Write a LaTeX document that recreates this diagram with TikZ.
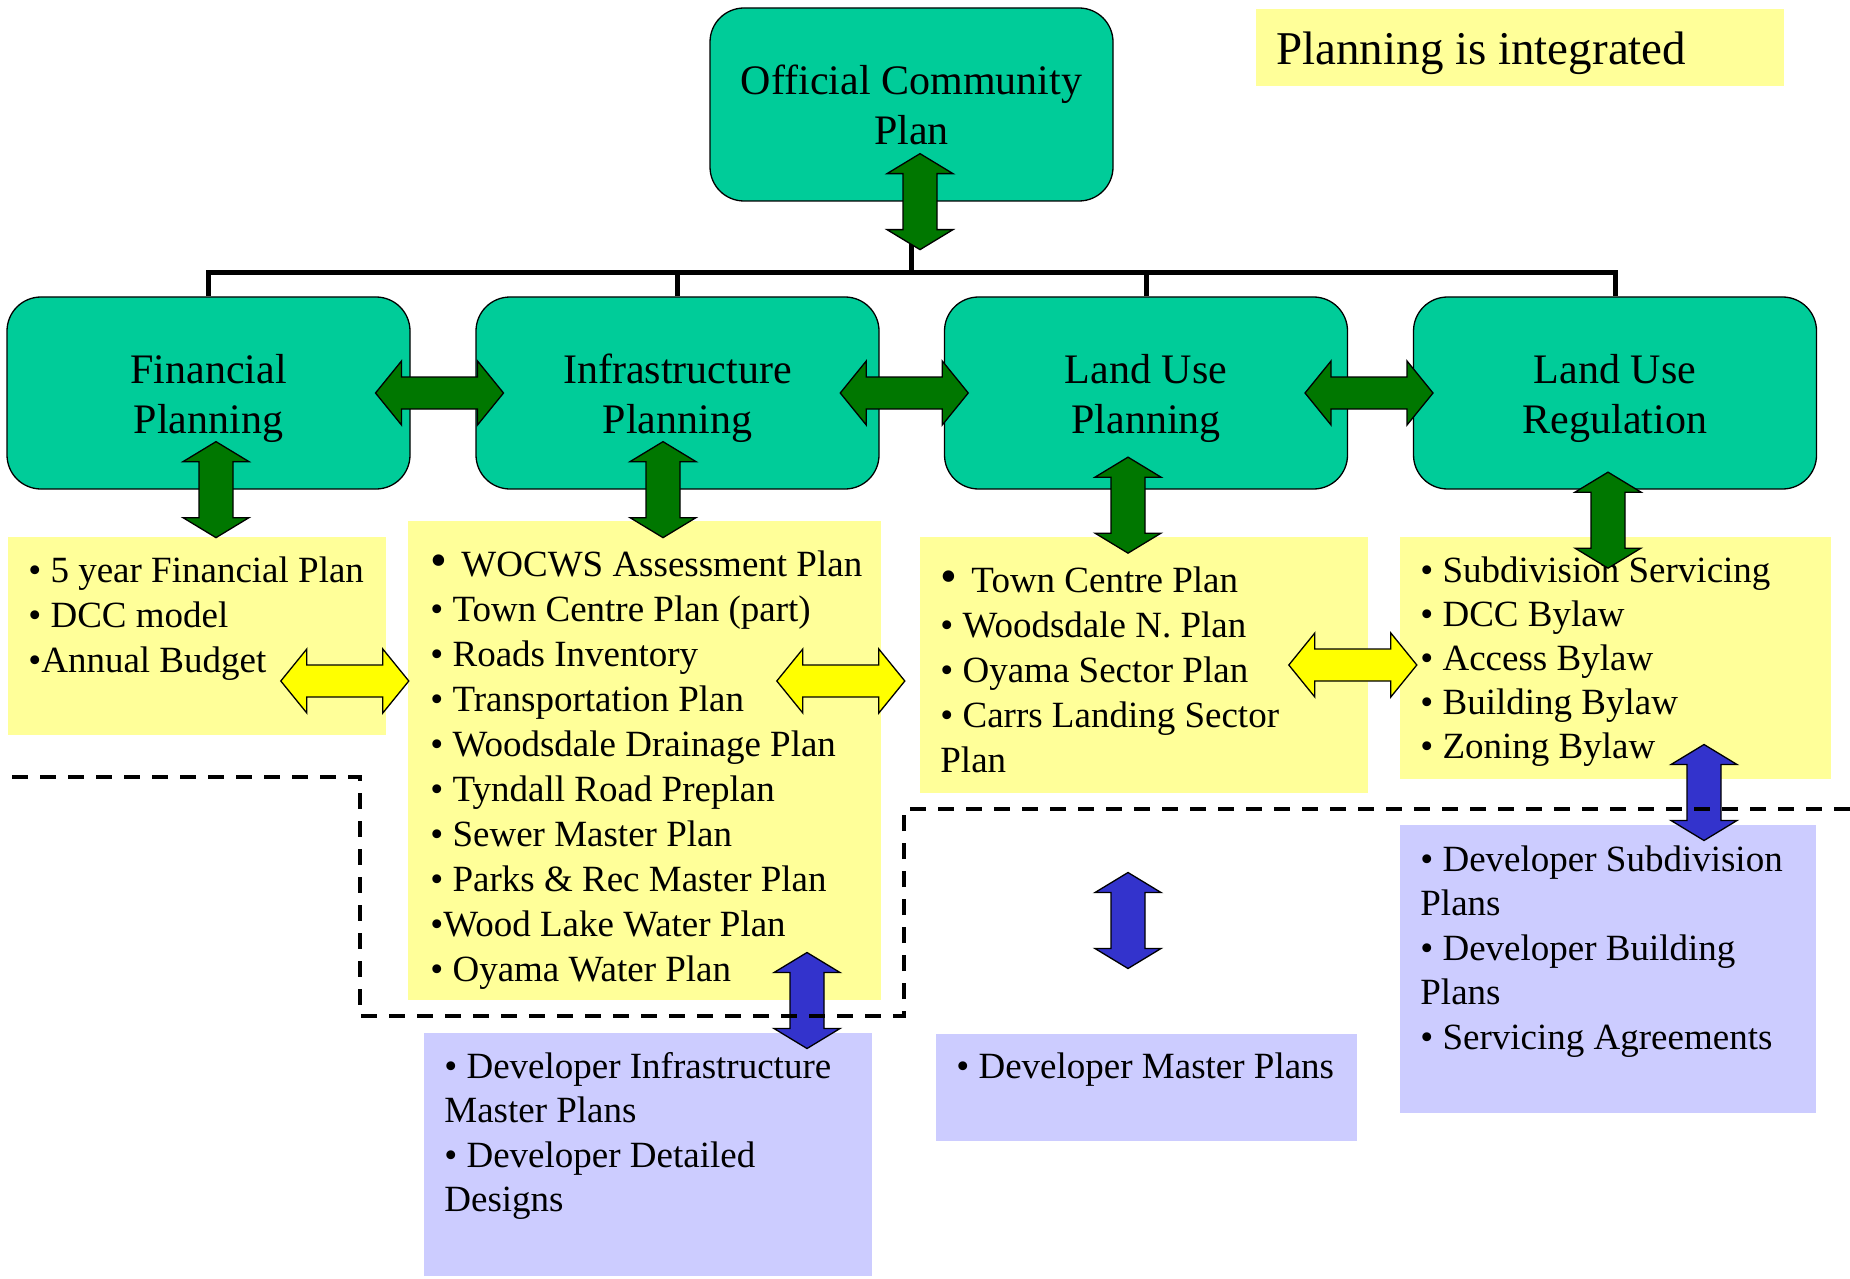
\documentclass[tikz,border=0pt]{standalone}
\usepackage{fontspec}
\setmainfont{Liberation Serif}
\usetikzlibrary{calc}

\definecolor{boxteal}{RGB}{0,204,153}
\definecolor{paleyellow}{RGB}{255,255,153}
\definecolor{lavender}{RGB}{204,204,255}
\definecolor{arrowgreen}{RGB}{0,119,0}
\definecolor{arrowyellow}{RGB}{255,255,0}
\definecolor{arrowblue}{RGB}{51,51,204}

% centred two-line heading, set slightly low in its box
\newcommand\headtext[1]{\raisebox{-2.5pt}[\height][\depth]{\begin{tabular}{@{}c@{}}#1\end{tabular}}}
% fixed-size text panel: width, height, left padding, first baseline, lines
\newcommand\padbox[5]{\parbox[t][#2][t]{#1}{\leftskip=#3\relax\parindent=0pt\rightskip=0pt plus 1fil\relax
  \vspace*{\dimexpr#4-0.7\baselineskip\relax}#5}}
\newcommand\itemline[1]{\strut#1\par}
\newcommand\bigbullet{{\fontsize{24}{22}\selectfont •}\hspace{2.5pt}}

\tikzset{
  headbox/.style={draw=black, line width=0.65pt, fill=boxteal, rounded corners=17pt,
    minimum width=201.5pt, minimum height=96pt, inner sep=0pt,
    font=\fontsize{21}{25}\selectfont},
  listbox/.style={inner sep=0pt, anchor=north west, font=\fontsize{18.5}{22.5}\selectfont},
  bus/.style={line width=2.5pt},
  blockarrow/.style={draw=black, line width=0.65pt, line join=miter},
  divider/.style={line width=2pt, dash pattern=on 8pt off 6pt},
  pics/vdouble/.style={code={
    \draw[pic actions] (0,-48) -- (33,-28) -- (17,-28) -- (17,28) -- (33,28) -- (0,48)
      -- (-33,28) -- (-17,28) -- (-17,-28) -- (-33,-28) -- cycle;}},
  pics/hdouble/.style={code={
    \draw[pic actions] (-64,0) -- (-38,-32) -- (-38,-16) -- (38,-16) -- (38,-32) -- (64,0)
      -- (38,32) -- (38,16) -- (-38,16) -- (-38,32) -- cycle;}},
}

\begin{document}
\begin{tikzpicture}[x=0.5pt, y=-0.5pt]
\useasboundingbox (0,0) rectangle (1850,1278);

% title
\node[listbox, fill=paleyellow, font=\fontsize{23.5}{28}\selectfont] (title) at (1256,9)
  {\padbox{264pt}{38.5pt}{10pt}{27.5pt}{\itemline{Planning is integrated}}};

% planning boxes
\node[headbox, minimum height=96.5pt] (ocp) at (911.5,104.5) {\headtext{Official Community\\Plan}};
\node[headbox] (fin) at (208.5,393) {\headtext{Financial\\Planning}};
\node[headbox] (inf) at (677.5,393) {\headtext{Infrastructure\\Planning}};
\node[headbox] (lup) at (1146,393) {\headtext{Land Use\\Planning}};
\node[headbox] (lur) at (1615,393) {\headtext{Land Use\\Regulation}};

% plan lists
\node[listbox, fill=paleyellow] (finlist) at (8,537)
  {\padbox{189pt}{99pt}{10pt}{22.5pt}{%
    \itemline{• 5 year Financial Plan}
    \itemline{• DCC model}
    \itemline{•Annual Budget}}};
\node[listbox, fill=paleyellow] (inflist) at (408,521)
  {\padbox{236.5pt}{239.5pt}{11pt}{27.5pt}{%
    \itemline{\bigbullet\ WOCWS Assessment Plan}
    \itemline{• Town Centre Plan (part)}
    \itemline{• Roads Inventory}
    \itemline{• Transportation Plan}
    \itemline{• Woodsdale Drainage Plan}
    \itemline{• Tyndall Road Preplan}
    \itemline{• Sewer Master Plan}
    \itemline{• Parks \& Rec Master Plan}
    \itemline{•Wood Lake Water Plan}
    \itemline{• Oyama Water Plan}}};
\node[listbox, fill=paleyellow] (luplist) at (920,537)
  {\padbox{224pt}{128pt}{10pt}{27.5pt}{%
    \itemline{\bigbullet\ Town Centre Plan}
    \itemline{• Woodsdale N. Plan}
    \itemline{• Oyama Sector Plan}
    \itemline{• Carrs Landing Sector}
    \itemline{Plan}}};
\node[listbox, fill=paleyellow, font=\fontsize{18.5}{22}\selectfont] (lurlist) at (1400,537)
  {\padbox{215.5pt}{121pt}{10pt}{22.5pt}{%
    \itemline{• Subdivision Servicing}
    \itemline{• DCC Bylaw}
    \itemline{• Access Bylaw}
    \itemline{• Building Bylaw}
    \itemline{• Zoning Bylaw}}};

% developer lists
\node[listbox, fill=lavender, font=\fontsize{18.5}{22.2}\selectfont] (infdev) at (424,1033)
  {\padbox{224pt}{121.5pt}{10pt}{22.5pt}{%
    \itemline{• Developer Infrastructure}
    \itemline{Master Plans}
    \itemline{• Developer Detailed}
    \itemline{Designs}}};
\node[listbox, fill=lavender] (lupdev) at (936,1034)
  {\padbox{210.5pt}{53.5pt}{10pt}{22pt}{%
    \itemline{• Developer Master Plans}}};
\node[listbox, fill=lavender, font=\fontsize{18.5}{22.25}\selectfont] (lurdev) at (1400,825)
  {\padbox{208pt}{144pt}{10pt}{23pt}{%
    \itemline{• Developer Subdivision}
    \itemline{Plans}
    \itemline{• Developer Building}
    \itemline{Plans}
    \itemline{• Servicing Agreements}}};

% organisation bus
\draw[bus] (fin.north) -- ++(0,-24) -| (lur.north);
\draw[bus] (inf.north) -- ++(0,-24);
\draw[bus] (lup.north) -- ++(0,-24);
\draw[bus] (ocp.south) -- ++(0,72);

% green links between planning boxes
\pic[blockarrow, fill=arrowgreen] at ($(ocp.south)+(8.5,0)$) {vdouble};
\pic[blockarrow, fill=arrowgreen] at ($(fin.east)!0.5!(inf.west)+(-3.5,0)$) {hdouble};
\pic[blockarrow, fill=arrowgreen] at ($(inf.east)!0.5!(lup.west)+(-7.5,0)$) {hdouble};
\pic[blockarrow, fill=arrowgreen] at ($(lup.east)!0.5!(lur.west)+(-11.5,0)$) {hdouble};
\pic[blockarrow, fill=arrowgreen] at ($(fin.south)+(7.5,0)$) {vdouble};
\pic[blockarrow, fill=arrowgreen] at ($(inf.south)+(-14.5,0)$) {vdouble};
\pic[blockarrow, fill=arrowgreen] at ($(lup.south)+(-18,15.5)$) {vdouble};
\pic[blockarrow, fill=arrowgreen] at ($(lur.south)+(-7,30.5)$) {vdouble};

% yellow links between plan lists
\pic[blockarrow, fill=arrowyellow] at ($(finlist.north east)+(-42,144)$) {hdouble};
\pic[blockarrow, fill=arrowyellow] at ($(inflist.north east)+(-41,160)$) {hdouble};
\pic[blockarrow, fill=arrowyellow] at ($(luplist.north east)+(-16,128)$) {hdouble};

% blue links to developer lists
\pic[blockarrow, fill=arrowblue] at ($(infdev.north west)+(383,-32.5)$) {vdouble};
\pic[blockarrow, fill=arrowblue] at ($(lupdev.north west)+(192,-113.5)$) {vdouble};
\pic[blockarrow, fill=arrowblue] at ($(lurdev.north west)+(304,-32.5)$) {vdouble};

% boundary between municipal and developer plans
\draw[divider] (12,777) -- (360,777) -- (360,1016) -- (904,1016) -- (904,809) -- (1850,809);
\end{tikzpicture}
\end{document}
